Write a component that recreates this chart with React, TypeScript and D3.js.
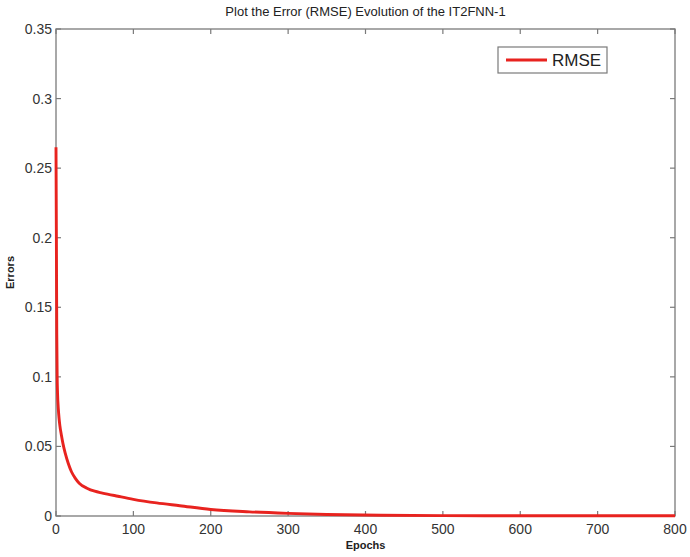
import React from "react";
import * as d3 from "d3";

const epochs = [0, 0.5, 1, 1.5, 2, 3, 4, 5, 7, 9, 12, 16, 20, 25, 30, 40, 50, 60, 80, 100, 130, 160, 200, 250, 300, 350, 420, 500, 600, 700, 800];
const rmse = [0.265, 0.2, 0.13, 0.1, 0.088, 0.077, 0.07, 0.065, 0.058, 0.052, 0.045, 0.0375, 0.0318, 0.027, 0.0235, 0.0200, 0.0178, 0.0165, 0.0142, 0.012, 0.0094, 0.0074, 0.0047, 0.003, 0.0019, 0.0011, 0.0005, 0.0003, 0.0002, 0.0002, 0.0002];
const xTicks = [0, 100, 200, 300, 400, 500, 600, 700, 800];
const yTicks = [0, 0.05, 0.1, 0.15, 0.2, 0.25, 0.3, 0.35];
const yTickLabels = ["0", "0.05", "0.1", "0.15", "0.2", "0.25", "0.3", "0.35"];
const title = "Plot the Error (RMSE) Evolution of the IT2FNN-1";
const legendLabel = "RMSE";

export default function App() {
  const W = 690, H = 557;
  const left = 56, right = 675, top = 29, bottom = 516;
  const x = d3.scaleLinear().domain([0, 800]).range([left, right]);
  const y = d3.scaleLinear().domain([0, 0.35]).range([bottom, top]);
  const lineGen = d3.line<number>().x((_, i) => x(epochs[i])).y((d) => y(d)).curve(d3.curveMonotoneX);
  const axisColor = "#7a7a7a";
  const font = "Liberation Sans, Arial, sans-serif";
  const tl = 5;
  return (
    <div style={{ position: "absolute", left: 0, top: 0 }}>
      <svg width={W} height={H} style={{ display: "block", background: "#fff" }}>
        <text x={(left + right) / 2} y={16} textAnchor="middle" fontFamily={font} fontSize={13} fill="#222">{title}</text>
        <rect x={left} y={top} width={right - left} height={bottom - top} fill="none" stroke={axisColor} strokeWidth={1.3} />
        {xTicks.map((t) => (
          <g key={"x" + t}>
            <line x1={x(t)} x2={x(t)} y1={bottom} y2={bottom - tl} stroke={axisColor} strokeWidth={1.2} />
            <line x1={x(t)} x2={x(t)} y1={top} y2={top + tl} stroke={axisColor} strokeWidth={1.2} />
            <text x={x(t)} y={bottom + 18} textAnchor="middle" fontFamily={font} fontSize={14} fill="#333">{t}</text>
          </g>
        ))}
        {yTicks.map((t, i) => (
          <g key={"y" + t}>
            <line x1={left} x2={left + tl} y1={y(t)} y2={y(t)} stroke={axisColor} strokeWidth={1.2} />
            <line x1={right} x2={right - tl} y1={y(t)} y2={y(t)} stroke={axisColor} strokeWidth={1.2} />
            <text x={left - 4} y={y(t) + 5} textAnchor="end" fontFamily={font} fontSize={14} fill="#333">{yTickLabels[i]}</text>
          </g>
        ))}
        <path d={lineGen(rmse) || ""} fill="none" stroke="#e8231f" strokeWidth={2.9} strokeLinejoin="round" />
        <text x={(left + right) / 2} y={549} textAnchor="middle" fontFamily={font} fontSize={11} fontWeight="bold" fill="#222">Epochs</text>
        <text transform={`translate(14, ${(top + bottom) / 2}) rotate(-90)`} textAnchor="middle" fontFamily={font} fontSize={11} fontWeight="bold" fill="#222">Errors</text>
        <rect x={498} y={47} width={109} height={26} fill="#fff" stroke={axisColor} strokeWidth={1.2} />
        <line x1={506} x2={547} y1={60} y2={60} stroke="#e8231f" strokeWidth={2.9} />
        <text x={552} y={66} fontFamily={font} fontSize={17} fill="#222">{legendLabel}</text>
      </svg>
    </div>
  );
}
